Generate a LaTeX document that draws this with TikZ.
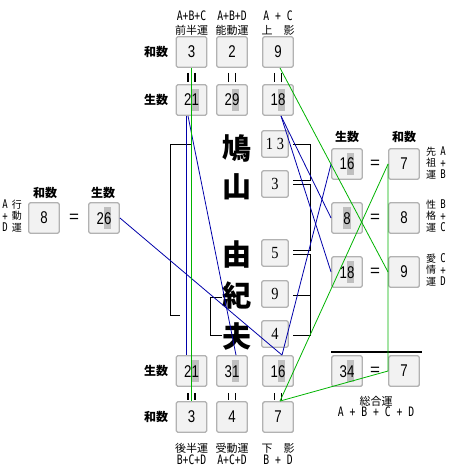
\documentclass[tikz,border=0pt]{standalone}
\usepackage{fontspec}
\usepackage{graphicx}
\newfontfamily\jp{Noto Sans CJK JP}
\newfontfamily\numf{Liberation Sans}
\newfontfamily\monof{DejaVu Sans Mono}
\newfontfamily\serf{Liberation Serif}
\definecolor{hlgray}{gray}{0.75}
\definecolor{bluel}{RGB}{0,0,170}
\definecolor{greenl}{RGB}{0,180,0}
\newcommand\hl[1]{{\setlength\fboxsep{0pt}\colorbox{hlgray}{\rule[-5pt]{0pt}{22pt}#1}}}
\newcommand\numtxt[1]{\scalebox{0.78}[1]{\numf\fontsize{17}{17}\selectfont #1}}
\newcommand\mtxt[1]{\scalebox{0.75}[1]{\monof\fontsize{13}{13}\selectfont #1}}
\newcommand\stxt[1]{\scalebox{0.75}[1]{\monof\fontsize{12}{12}\selectfont #1}}
\newcommand\sertxt[1]{\scalebox{0.85}[1]{\serf\fontsize{17}{17}\selectfont #1}}
\tikzset{
 bx/.style={draw=black!30, fill=black!5, line width=1.4pt, rounded corners=1.5pt,
   minimum width=30.5pt, minimum height=30.5pt, inner sep=0pt},
 sbx/.style={bx, minimum width=26.5pt, minimum height=26.5pt},
 lbl/.style={font=\jp\bfseries\fontsize{12}{12}\selectfont, inner sep=0pt},
 hdr/.style={font=\jp\fontsize{11}{11}\selectfont, inner sep=0pt},
 side/.style={font=\jp\fontsize{10}{11.5}\selectfont, inner sep=0pt, align=center},
 kj/.style={font=\jp\bfseries\fontsize{29}{29}\selectfont, inner sep=0pt},
 eqs/.style={font=\numf\fontsize{17}{17}\selectfont, inner sep=0pt},
 bl/.style={draw=bluel, line width=0.8pt},
 gl/.style={draw=greenl, line width=0.8pt},
 br/.style={draw=black, line width=0.9pt},
 eqb/.style={draw=black, line width=1.4pt},
}
\begin{document}
\begin{tikzpicture}[x=1pt,y=-1pt]
\useasboundingbox[fill=white] (0,0) rectangle (450,470);

% ---------- headers ----------
\node[hdr] (h1a) at (191.5,16) {\mtxt{A+B+C}};
\node[hdr] (h1b) at (191.5,30) {前半運};
\node[hdr] (h2a) at (232,16) {\mtxt{A+B+D}};
\node[hdr] (h2b) at (232,30) {能動運};
\node[hdr] (h3a) at (278,16) {\mtxt{A + C}};
\node[hdr] (h3b) at (278,30) {上　影};

% ---------- top rows ----------
\node[lbl] (lw1) at (156,52) {和数};
\node[lbl] (ls1) at (156,100) {生数};
\node[bx] (tw1) at (191.5,52) {\numtxt{3}};
\node[bx] (tw2) at (232,52) {\numtxt{2}};
\node[bx] (tw3) at (278,52) {\numtxt{9}};
\node[bx] (ts1) at (191.5,100) {\numtxt{2\hl{1}}};
\node[bx] (ts2) at (232,100) {\numtxt{2\hl{9}}};
\node[bx] (ts3) at (278,100) {\numtxt{1\hl{8}}};
\foreach \c in {191.5,232,278}{
  \draw[eqb] (\c-3.5,73) -- (\c-3.5,82);
  \draw[eqb] (\c+3.5,73) -- (\c+3.5,82);
  \draw[eqb] (\c-3.5,393) -- (\c-3.5,400);
  \draw[eqb] (\c+3.5,393) -- (\c+3.5,400);
}

% ---------- bottom rows ----------
\node[lbl] (ls2) at (156,371) {生数};
\node[lbl] (lw2) at (156,417) {和数};
\node[bx] (bs1) at (191.5,371) {\numtxt{2\hl{1}}};
\node[bx] (bs2) at (232,371) {\numtxt{3\hl{1}}};
\node[bx] (bs3) at (278,371) {\numtxt{1\hl{6}}};
\node[bx] (bw1) at (191.5,417) {\numtxt{3}};
\node[bx] (bw2) at (232,417) {\numtxt{4}};
\node[bx] (bw3) at (278,417) {\numtxt{7}};
\node[hdr] (f1a) at (191.5,448) {後半運};
\node[hdr] (f1b) at (191.5,460) {\mtxt{B+C+D}};
\node[hdr] (f2a) at (232,448) {受動運};
\node[hdr] (f2b) at (232,460) {\mtxt{A+C+D}};
\node[hdr] (f3a) at (278,448) {下　影};
\node[hdr] (f3b) at (278,460) {\mtxt{B + D}};

% ---------- left ----------
\node[lbl] (llw) at (45,193) {和数};
\node[lbl] (lls) at (103,193) {生数};
\node[bx] (l8) at (44,218) {\numtxt{8}};
\node[eqs] (leq) at (74,218) {=};
\node[bx] (l26) at (104,218) {\numtxt{2\hl{6}}};
\node[side] (lla) at (5,216) {\stxt{A}\\\stxt{+}\\\stxt{D}};
\node[side] (llb) at (17,216) {行\\動\\運};

% ---------- name ----------
\node[kj] (j1) at (237,148) {鳩};
\node[kj] (j2) at (237,187) {山};
\node[kj] (j3) at (237,255) {由};
\node[kj] (j4) at (237,295) {紀};
\node[kj] (j5) at (237,337) {夫};
\node[sbx] (k1) at (275,144) {\sertxt{1 3}};
\node[sbx] (k2) at (275,184) {\sertxt{3}};
\node[sbx] (k3) at (275,253) {\sertxt{5}};
\node[sbx] (k4) at (275,294) {\sertxt{9}};
\node[sbx] (k5) at (275,334) {\sertxt{4}};

% brackets
\draw[br] (192,144) -- (170,144) -- (170,315) -- (180,315);
\draw[br] (222,297) -- (210,297) -- (210,335) -- (222,335);
\draw[br] (293,144) -- (310,144) -- (310,180) -- (293,180);
\draw[br] (293,184) -- (310,184) -- (310,250) -- (293,250);
\draw[br] (293,254) -- (310,254) -- (310,335) -- (293,335);
\draw[br] (293,295) -- (310,295);

% ---------- right ----------
\node[lbl] (rls) at (347,137) {生数};
\node[lbl] (rlw) at (404,137) {和数};
\node[bx] (r16) at (347,164) {\numtxt{1\hl{6}}};
\node[eqs] (re1) at (375,164) {=};
\node[bx] (r7) at (404,164) {\numtxt{7}};
\node[bx] (r8a) at (347,218) {\numtxt{\hl{8}}};
\node[eqs] (re2) at (375,218) {=};
\node[bx] (r8b) at (404,218) {\numtxt{8}};
\node[bx] (r18) at (347,272) {\numtxt{1\hl{8}}};
\node[eqs] (re3) at (375,272) {=};
\node[bx] (r9) at (404,272) {\numtxt{9}};
\node[side] (s1a) at (431,163) {先\\祖\\運};
\node[side] (s1b) at (443,163) {\stxt{A}\\\stxt{+}\\\stxt{B}};
\node[side] (s2a) at (431,216) {性\\格\\運};
\node[side] (s2b) at (443,216) {\stxt{B}\\\stxt{+}\\\stxt{C}};
\node[side] (s3a) at (431,270) {愛\\情\\運};
\node[side] (s3b) at (443,270) {\stxt{C}\\\stxt{+}\\\stxt{D}};

% total
\draw[draw=black, line width=2.4pt] (331,352) -- (422,352);
\node[bx] (t34) at (347,371) {\numtxt{3\hl{4}}};
\node[eqs] (te) at (375,371) {=};
\node[bx] (t7) at (404,371) {\numtxt{7}};
\node[hdr] (tla) at (376,401) {総合運};
\node[hdr] (tlb) at (376,412) {\mtxt{A + B + C + D}};

% ---------- connectors ----------
\draw[bl] ([xshift=-5.5pt]ts1.south) -- ([xshift=-5.5pt]bs1.north);
\draw[bl] ([xshift=-3.5pt]ts1.south) -- ([xshift=4pt]bs2.north);
\draw[bl] ([xshift=3pt]ts3.south) -- (r8a.west);
\draw[bl] ([xshift=3pt]ts3.south) -- (r18.west);
\draw[bl] (r16.west) -- ([xshift=4pt]bs3.north);
\draw[bl] (l26.east) -- ([xshift=4pt]bs3.north);

\draw[gl] (tw1.south) -- (bw1.north);
\draw[gl] ([xshift=2pt]tw3.south) -- (r9.west);
\draw[gl] (r7.west) -- ([xshift=2pt]bw3.north);
\draw[gl] (r7.west) -- (t7.west) -- ([xshift=2pt]bw3.north);
\end{tikzpicture}
\end{document}
